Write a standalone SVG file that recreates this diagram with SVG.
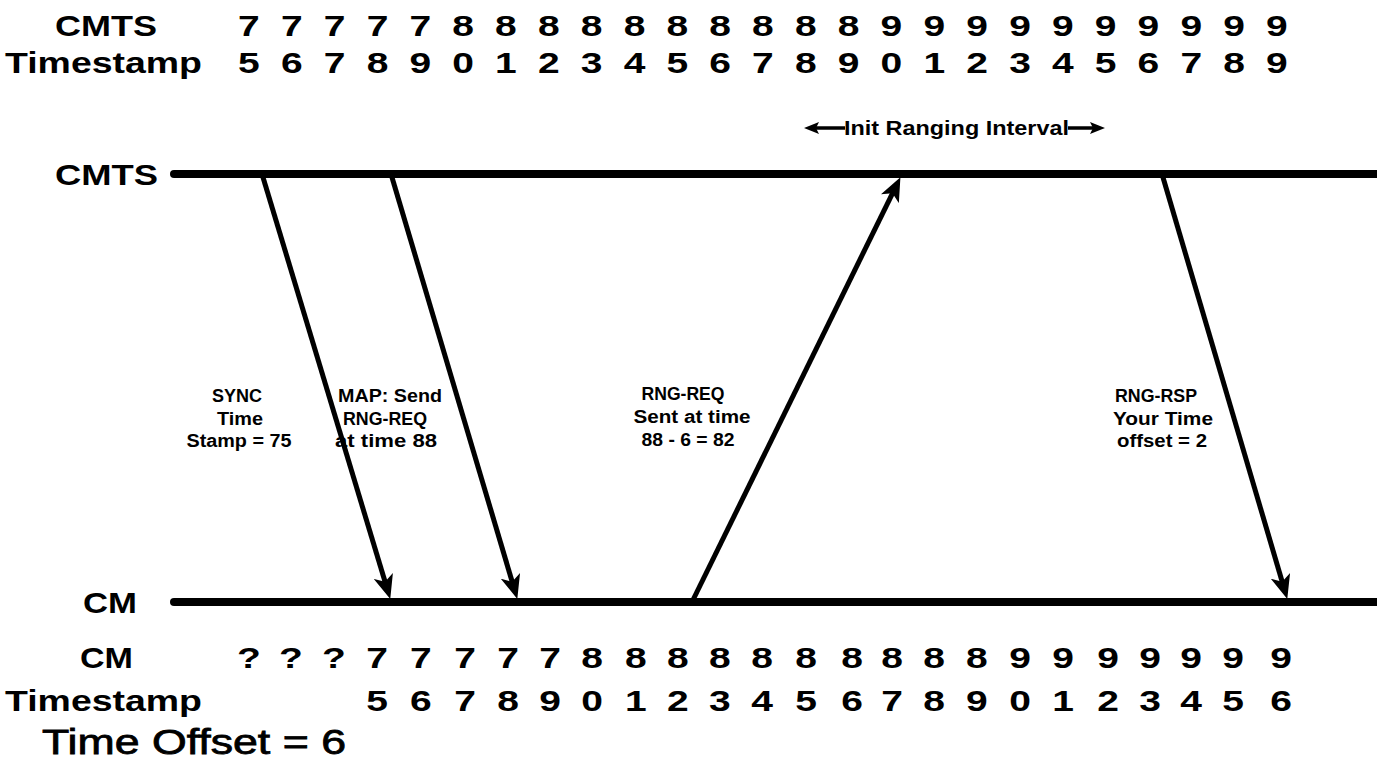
<svg xmlns="http://www.w3.org/2000/svg" width="1377" height="780" viewBox="0 0 1377 780">
<style>
.hd{font-family:"Liberation Sans",Arial,sans-serif;font-weight:bold;font-size:30px;fill:#000}
.dg{font-family:"Liberation Sans",Arial,sans-serif;font-weight:bold;font-size:30px;fill:#000;text-anchor:middle}
.lb{font-family:"Liberation Sans",Arial,sans-serif;font-weight:bold;font-size:18px;fill:#000;text-anchor:middle}
.iv{font-family:"Liberation Sans",Arial,sans-serif;font-weight:bold;font-size:20px;fill:#000}
.off{font-family:"Liberation Sans",Arial,sans-serif;font-size:35px;fill:#000;stroke:#000;stroke-width:0.8}
.tl{stroke:#000;stroke-width:8;fill:none;stroke-linecap:round}
.msg{stroke:#000;stroke-width:5;fill:none;marker-end:url(#ah)}
.ivl{stroke:#000;stroke-width:3.5;fill:none;marker-end:url(#ahs)}
</style>
<defs>
<marker id="ah" viewBox="0 0 24 20" refX="11" refY="10" markerWidth="24" markerHeight="20" markerUnits="userSpaceOnUse" orient="auto">
<path d="M0,0 L24,10 L0,20 L6,10 z" fill="#000"/>
</marker>
<marker id="ahs" viewBox="0 0 15 12" refX="8" refY="6" markerWidth="15" markerHeight="12" markerUnits="userSpaceOnUse" orient="auto">
<path d="M0,0 L15,6 L0,12 L3,6 z" fill="#000"/>
</marker>
</defs>
<rect width="1377" height="780" fill="#fff"/>

<g id="header-cmts">
<text class="hd" x="55" y="36" textLength="102" lengthAdjust="spacingAndGlyphs">CMTS</text>
<text class="hd" x="5" y="73" textLength="197" lengthAdjust="spacingAndGlyphs">Timestamp</text>
<g transform="scale(1.3 1)">
<text class="dg" y="36" x="191.5 224.5 257.4 290.4 323.3 356.3 389.2 422.2 455.1 488.1 521.0 553.9 586.9 619.8 652.8 685.7 718.7 751.6 784.6 817.5 850.5 883.4 916.4 949.3 982.2">7777788888888889999999999</text>
<text class="dg" y="73" x="191.5 224.5 257.4 290.4 323.3 356.3 389.2 422.2 455.1 488.1 521.0 553.9 586.9 619.8 652.8 685.7 718.7 751.6 784.6 817.5 850.5 883.4 916.4 949.3 982.2">5678901234567890123456789</text>
</g>
</g>

<g id="init-ranging-interval">
<text class="iv" x="844" y="135" textLength="225" lengthAdjust="spacingAndGlyphs">Init Ranging Interval</text>
<line class="ivl" x1="845" y1="128" x2="811" y2="128"/>
<line class="ivl" x1="1068" y1="128" x2="1098" y2="128"/>
</g>

<g id="cmts">
<text class="hd" x="55" y="185" textLength="103" lengthAdjust="spacingAndGlyphs">CMTS</text>
<path class="tl" d="M174,174 H1390"/>
</g>

<g id="cm">
<text class="hd" x="83" y="613" textLength="54" lengthAdjust="spacingAndGlyphs">CM</text>
<path class="tl" d="M174,602 H1390"/>
</g>

<g id="connectors">
<path class="msg" d="M262,174 L386.5,586.5"/>
<path class="msg" d="M391,174 L513.6,586.5"/>
<path class="msg" d="M692,602 L894.7,188.8"/>
<path class="msg" d="M1162,174 L1283.6,586.5"/>
</g>

<g id="label-sync">
<text class="lb" x="237" y="402" textLength="50" lengthAdjust="spacingAndGlyphs">SYNC</text>
<text class="lb" x="240" y="425" textLength="46" lengthAdjust="spacingAndGlyphs">Time</text>
<text class="lb" x="239" y="447" textLength="105" lengthAdjust="spacingAndGlyphs">Stamp = 75</text>
</g>

<g id="label-map">
<text class="lb" x="390" y="402" textLength="104" lengthAdjust="spacingAndGlyphs">MAP: Send</text>
<text class="lb" x="385" y="425" textLength="84" lengthAdjust="spacingAndGlyphs">RNG-REQ</text>
<text class="lb" x="386" y="447" textLength="102" lengthAdjust="spacingAndGlyphs">at time 88</text>
</g>

<g id="label-rng-req">
<text class="lb" x="683" y="400" textLength="83" lengthAdjust="spacingAndGlyphs">RNG-REQ</text>
<text class="lb" x="692" y="423" textLength="117" lengthAdjust="spacingAndGlyphs">Sent at time</text>
<text class="lb" x="688" y="446" textLength="93" lengthAdjust="spacingAndGlyphs">88 - 6 = 82</text>
</g>

<g id="label-rng-rsp">
<text class="lb" x="1156" y="402" textLength="82" lengthAdjust="spacingAndGlyphs">RNG-RSP</text>
<text class="lb" x="1163" y="425" textLength="100" lengthAdjust="spacingAndGlyphs">Your Time</text>
<text class="lb" x="1162" y="447" textLength="90" lengthAdjust="spacingAndGlyphs">offset = 2</text>
</g>

<g id="footer-cm">
<text class="hd" x="80" y="668" textLength="53" lengthAdjust="spacingAndGlyphs">CM</text>
<text class="hd" x="5" y="711" textLength="197" lengthAdjust="spacingAndGlyphs">Timestamp</text>
<g transform="scale(1.3 1)">
<text class="dg" y="668" x="191.5 223.8 256.9 290.0 323.8 357.7 390.8 423.1 455.4 489.2 521.5 553.8 586.2 620.0 655.4 686.2 718.5 751.5 784.6 817.7 852.3 884.6 916.2 948.5 985.4">???7777788888888889999999</text>
<text class="dg" y="711" x="290.0 323.8 357.7 390.8 423.1 455.4 489.2 521.5 553.8 586.2 620.0 655.4 686.2 718.5 751.5 784.6 817.7 852.3 884.6 916.2 948.5 985.4">5678901234567890123456</text>
</g>
<text class="off" x="42" y="754" textLength="304" lengthAdjust="spacingAndGlyphs">Time Offset = 6</text>
</g>
</svg>
